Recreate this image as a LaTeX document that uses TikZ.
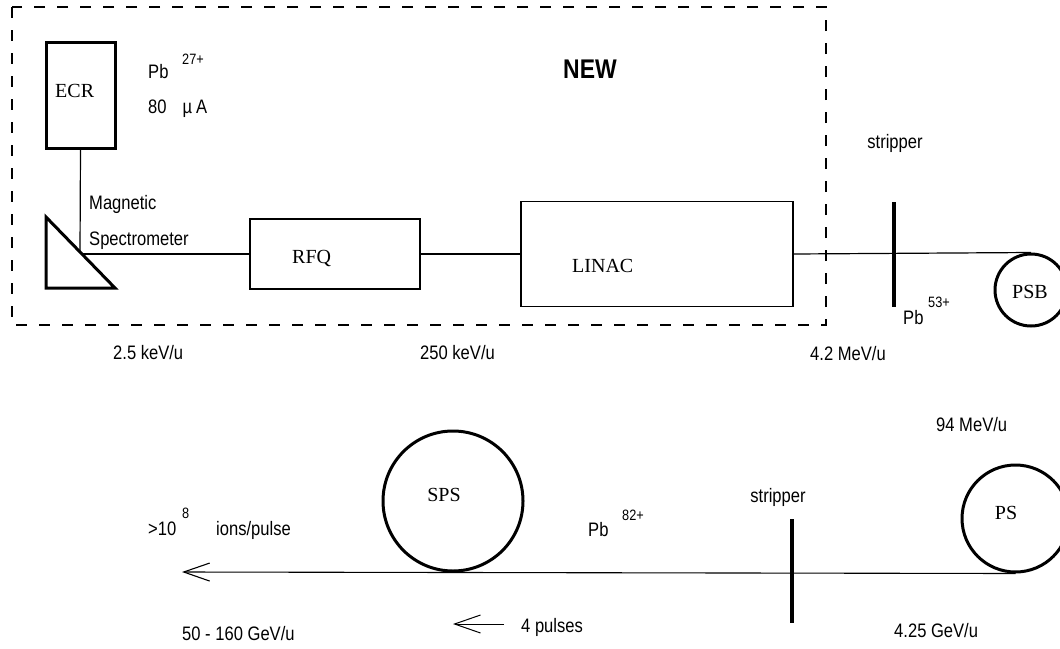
\documentclass[tikz,border=0pt]{standalone}
\usepackage{fontspec}
\setmainfont{Liberation Serif}
\newfontfamily\arialn{Liberation Sans}[FakeStretch=0.85]
\usetikzlibrary{arrows.meta}
\tikzset{
  lbl/.style={font=\arialn\fontsize{19.5}{22}\selectfont, inner sep=0pt, anchor=base west},
  suplbl/.style={font=\arialn\fontsize{15}{17}\selectfont, inner sep=0pt, anchor=base west},
  serifl/.style={font=\fontsize{20}{22}\selectfont, inner sep=0pt, anchor=base west},
  boxn/.style={draw, line width=1.8pt, inner sep=0pt},
  ring/.style={draw, circle, line width=3pt, inner sep=0pt},
  beam/.style={line width=1.2pt},
  stripperline/.style={line width=4.5pt},
  barb/.style={-{Straight Barb[length=26pt,width=18pt]}, line width=1.1pt}
}
\begin{document}
\begin{tikzpicture}[x=1pt,y=-1pt]
\useasboundingbox (0,0) rectangle (1060,648);
% dashed NEW region
\draw[line width=1.5pt, dash pattern=on 11pt off 12pt] (12,7) rectangle (826,325);
\node[font=\arialn\bfseries\fontsize{27}{30}\selectfont, inner sep=0pt, anchor=base west] (new) at (563,78) {NEW};
% ECR
\node[boxn, line width=3pt, minimum width=69pt, minimum height=106pt] (ecr) at (80.5,95) {};
\node[serifl] (ecrt) at (55,97) {ECR};
\node[lbl] (pb27) at (148,78) {Pb};
\node[suplbl] (pb27s) at (182,64) {27+};
\node[lbl] (cur) at (148,113) {80\hspace{16pt}µ\hspace{4pt}A};
% spectrometer triangle
\coordinate (t1) at (46,217);
\coordinate (t2) at (46,288);
\coordinate (t3) at (115,288);
\draw[line width=3pt, line join=miter] (t1) -- (t2) -- (t3) -- cycle;
\coordinate (sv) at (80,252);
\coordinate (sp) at (82,254);
\node[lbl] (mag) at (89,209) {Magnetic};
\node[lbl] (spec) at (89,245) {Spectrometer};
% RFQ and LINAC
\node[boxn, minimum width=170pt, minimum height=70pt] (rfq) at (335,254) {};
\node[serifl] (rfqt) at (292,263) {RFQ};
\node[boxn, minimum width=272pt, minimum height=105pt] (linac) at (657,254) {};
\node[serifl] (linact) at (572,272) {LINAC};
% PSB
\node[ring, minimum size=72pt] (psb) at (1031,290) {};
\node[serifl, anchor=base] (psbt) at (1030,298) {PSB};
% connectors top
\draw[beam] (ecr.south) -- (sv);
\draw[beam] (sp) -- (rfq.west);
\draw[beam] (rfq.east) -- (linac.west);
\draw[beam] (linac.east) -- (psb.north);
% stripper 1
\coordinate (s1a) at (894,202);
\coordinate (s1b) at (894,307);
\draw[stripperline] (s1a) -- (s1b);
\node[lbl, anchor=base] (str1) at (895,148) {stripper};
\node[lbl] (pb53) at (903,324) {Pb};
\node[suplbl] (pb53s) at (928,307) {53+};
% energies top
\node[lbl] (e1) at (113,359) {2.5 keV/u};
\node[lbl] (e2) at (420,359) {250 keV/u};
\node[lbl] (e3) at (810,360) {4.2 MeV/u};
% bottom ring
\node[lbl] (e4) at (936,431) {94 MeV/u};
\node[ring, minimum size=107pt] (ps) at (1015.5,518.5) {};
\node[serifl, anchor=base] (pst) at (1006,519) {PS};
\node[ring, minimum size=140pt] (sps) at (453,501) {};
\node[serifl, anchor=base] (spst) at (444,501) {SPS};
\coordinate (tip) at (182,572);
\draw[beam, barb] (ps.south) -- (tip);
% stripper 2
\coordinate (s2a) at (792,519);
\coordinate (s2b) at (792,623);
\draw[stripperline] (s2a) -- (s2b);
\node[lbl, anchor=base] (str2) at (778,502) {stripper};
\node[lbl] (pb82) at (588,536) {Pb};
\node[suplbl] (pb82s) at (622,520) {82+};
\node[lbl] (int) at (148,535) {>10};
\node[suplbl] (ints) at (182,518) {8};
\node[lbl] (ipp) at (216,535) {ions/pulse};
\node[lbl] (e5) at (182,640) {50 - 160 GeV/u};
\node[lbl] (e6) at (894,637) {4.25 GeV/u};
% 4 pulses
\coordinate (pa) at (504,624);
\coordinate (pb) at (453,624);
\draw[barb, line width=1pt] (pa) -- (pb);
\node[lbl] (four) at (521,632) {4 pulses};
\end{tikzpicture}
\end{document}
